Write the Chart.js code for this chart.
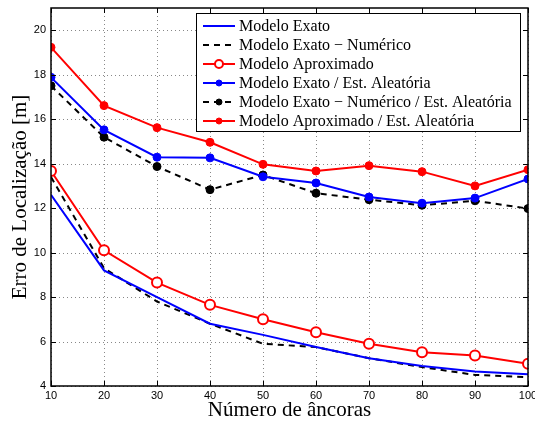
<!DOCTYPE html>
<html>
<head>
<meta charset="utf-8">
<script src="https://cdn.jsdelivr.net/npm/chart.js@4"></script>
<style>
  body { margin: 0; background: white; }
  #wrap { width: 535px; height: 421px; }
</style>
</head>
<body>
<div id="wrap"><canvas id="myChart" width="535" height="421"></canvas></div>
<script>
/* globals Chart */

const anchors = [10, 20, 30, 40, 50, 60, 70, 80, 90, 100];
const exato = [12.6, 9.2, 8.0, 6.8, 6.3, 5.75, 5.25, 4.9, 4.65, 4.53];
const exatoNum = [13.4, 9.3, 7.8, 6.8, 5.9, 5.75, 5.25, 4.85, 4.5, 4.4];
const aprox = [13.67, 10.1, 8.65, 7.65, 7.0, 6.42, 5.9, 5.52, 5.37, 5.0];
const exatoAle = [17.88, 15.52, 14.29, 14.26, 13.41, 13.13, 12.5, 12.22, 12.45, 13.31];
const exatoNumAle = [17.5, 15.19, 13.87, 12.83, 13.49, 12.67, 12.38, 12.13, 12.33, 11.98];
const aproxAle = [19.23, 16.61, 15.62, 14.96, 13.97, 13.67, 13.91, 13.64, 13.0, 13.73];
const yTicks = [4, 6, 8, 10, 12, 14, 16, 18, 20];

const pts = (vals) => vals.map((v, i) => ({ x: anchors[i], y: v }));

// dotted grid, drawn under the lines
const gridPlugin = {
  id: "dotGrid",
  beforeDatasetsDraw(chart) {
    const c = chart.ctx;
    const a = chart.chartArea;
    const xs = chart.scales.x;
    const ys = chart.scales.y;
    c.save();
    c.strokeStyle = "#888";
    c.lineWidth = 1;
    c.setLineDash([1, 3]);
    c.beginPath();
    anchors.forEach((v) => {
      const px = Math.round(xs.getPixelForValue(v)) + 0.5;
      c.moveTo(px, a.top);
      c.lineTo(px, a.bottom);
    });
    yTicks.forEach((v) => {
      const py = Math.round(ys.getPixelForValue(v)) + 0.5;
      c.moveTo(a.left, py);
      c.lineTo(a.right, py);
    });
    c.stroke();
    c.restore();
  },
};

// frame + inside tick marks like matlab
const framePlugin = {
  id: "frame",
  afterDatasetsDraw(chart) {
    const c = chart.ctx;
    const a = chart.chartArea;
    const xs = chart.scales.x;
    const ys = chart.scales.y;
    c.save();
    c.strokeStyle = "black";
    c.lineWidth = 1.5;
    c.strokeRect(a.left, a.top, a.right - a.left, a.bottom - a.top);
    c.lineWidth = 1;
    c.beginPath();
    anchors.forEach((v) => {
      const px = Math.round(xs.getPixelForValue(v)) + 0.5;
      c.moveTo(px, a.bottom);
      c.lineTo(px, a.bottom - 5);
      c.moveTo(px, a.top);
      c.lineTo(px, a.top + 5);
    });
    yTicks.forEach((v) => {
      const py = Math.round(ys.getPixelForValue(v)) + 0.5;
      c.moveTo(a.left, py);
      c.lineTo(a.left + 5, py);
      c.moveTo(a.right, py);
      c.lineTo(a.right - 5, py);
    });
    c.stroke();
    c.restore();
  },
};

// boxed legend inside the axes
const legendPlugin = {
  id: "boxLegend",
  afterDraw(chart) {
    const c = chart.ctx;
    const x0 = 196, y0 = 13, w = 324, h = 118, row = 19;
    c.save();
    c.fillStyle = "white";
    c.fillRect(x0, y0, w, h);
    c.strokeStyle = "black";
    c.lineWidth = 1;
    c.strokeRect(x0 + 0.5, y0 + 0.5, w, h);
    c.font = "16px 'Liberation Serif'";
    c.textBaseline = "middle";
    chart.data.datasets.forEach((ds, i) => {
      const y = y0 + 13 + i * row;
      c.strokeStyle = ds.borderColor;
      c.lineWidth = 2;
      c.setLineDash(ds.borderDash || []);
      c.beginPath();
      c.moveTo(203, y);
      c.lineTo(235, y);
      c.stroke();
      c.setLineDash([]);
      if (ds.pointRadius > 0) {
        c.beginPath();
        c.arc(219, y, ds.pointRadius - 1, 0, Math.PI * 2);
        c.fillStyle = ds.pointBackgroundColor;
        c.fill();
        c.lineWidth = ds.pointBorderWidth;
        c.strokeStyle = ds.pointBorderColor;
        c.stroke();
      }
      c.fillStyle = "black";
      c.fillText(ds.label, 239, y + 1);
    });
    c.restore();
  },
};

const ctx = document.getElementById("myChart").getContext("2d");

/* exported myChart */
const myChart = new Chart(ctx, {
  type: "line",
  plugins: [gridPlugin, framePlugin, legendPlugin],
  data: {
    datasets: [
      {
        label: "Modelo Exato",
        data: pts(exato),
        borderColor: "#0000ff",
        borderWidth: 2,
        pointRadius: 0,
      },
      {
        label: "Modelo Exato \u2212 Numérico",
        data: pts(exatoNum),
        borderColor: "black",
        borderWidth: 2,
        borderDash: [6, 5],
        pointRadius: 0,
      },
      {
        label: "Modelo Aproximado",
        data: pts(aprox),
        borderColor: "#ff0000",
        borderWidth: 2,
        pointRadius: 5,
        pointBackgroundColor: "white",
        pointBorderColor: "#ff0000",
        pointBorderWidth: 2,
      },
      {
        label: "Modelo Exato / Est. Aleatória",
        data: pts(exatoAle),
        borderColor: "#0000ff",
        borderWidth: 2,
        pointRadius: 4,
        pointBackgroundColor: "#0000ff",
        pointBorderColor: "#0000ff",
        pointBorderWidth: 1,
      },
      {
        label: "Modelo Exato \u2212 Numérico / Est. Aleatória",
        data: pts(exatoNumAle),
        borderColor: "black",
        borderWidth: 2,
        borderDash: [6, 5],
        pointRadius: 4,
        pointBackgroundColor: "black",
        pointBorderColor: "black",
        pointBorderWidth: 1,
      },
      {
        label: "Modelo Aproximado / Est. Aleatória",
        data: pts(aproxAle),
        borderColor: "#ff0000",
        borderWidth: 2,
        pointRadius: 4,
        pointBackgroundColor: "#ff0000",
        pointBorderColor: "#ff0000",
        pointBorderWidth: 1,
      },
    ],
  },
  options: {
    responsive: false,
    animation: false,
    events: [],
    layout: { padding: { top: 8, right: 6, left: 0, bottom: 0 } },
    plugins: {
      legend: { display: false },
      tooltip: { enabled: false },
    },
    scales: {
      x: {
        type: "linear",
        min: 10,
        max: 100,
        afterFit(scale) {
          scale.height = 35;
          scale.paddingLeft = 0;
          scale.paddingRight = 0;
        },
        ticks: {
          stepSize: 10,
          color: "black",
          padding: 3,
          font: { family: "'Liberation Sans'", size: 11 },
        },
        grid: { display: false, drawTicks: false, tickLength: 0 },
        border: { display: false },
        title: {
          display: true,
          text: "Número de âncoras",
          color: "black",
          padding: { top: 0, bottom: -2 },
          font: { family: "'Liberation Serif'", size: 21 },
        },
      },
      y: {
        min: 4,
        max: 21,
        afterFit(scale) {
          scale.width = 51;
          scale.paddingTop = 0;
          scale.paddingBottom = 0;
        },
        afterBuildTicks(scale) {
          scale.ticks = yTicks.map((v) => ({ value: v }));
        },
        ticks: {
          color: "black",
          padding: 5,
          font: { family: "'Liberation Sans'", size: 11 },
        },
        grid: { display: false, drawTicks: false, tickLength: 0 },
        border: { display: false },
        title: {
          display: true,
          text: "Erro de Localização [m]",
          color: "black",
          padding: { top: 8, bottom: 0 },
          font: { family: "'Liberation Serif'", size: 21 },
        },
      },
    },
  },
});
</script>
</body>
</html>
